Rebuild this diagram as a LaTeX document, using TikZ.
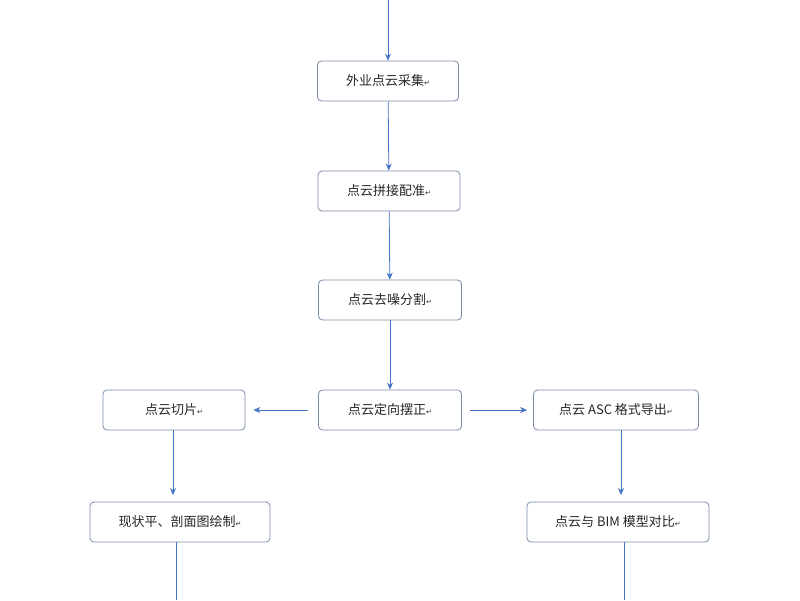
\documentclass[tikz,border=0pt]{standalone}
\usepackage{fontspec}
\setmainfont{Noto Sans CJK SC}
\newfontfamily\symfont{DejaVu Sans}
\usetikzlibrary{positioning,arrows.meta}
\definecolor{flowblue}{RGB}{68,114,196}
\definecolor{boxline}{RGB}{120,140,170}
\newcommand{\parmark}{{\symfont\scriptsize ↵}}
\begin{document}
\begin{tikzpicture}[x=1pt,y=-1pt,
    stage/.style={draw=boxline, rounded corners=4pt, thick, minimum height=40pt, font=\fontsize{13}{15}\selectfont, text=black!85},
    flow/.style={-{Stealth[length=7pt,width=6pt]}, flowblue, thick}]
  \useasboundingbox (0,0) rectangle (800,600);

  % main column
  \node[stage, minimum width=141pt] (collect) at (388,81) {外业点云采集\parmark};
  \node[stage, minimum width=142pt] (stitch) at (389,191) {点云拼接配准\parmark};
  \node[stage, minimum width=143pt] (denoise) at (390,300) {点云去噪分割\parmark};
  \node[stage, minimum width=143pt] (orient) at (390,410) {点云定向摆正\parmark};

  % side branches
  \node[stage, minimum width=142pt] (slice) at (174,410) {点云切片\parmark};
  \node[stage, minimum width=165pt] (export) at (616,410) {点云 ASC 格式导出\parmark};
  \node[stage, minimum width=180pt] (drawing) at (180,522) {现状平、剖面图绘制\parmark};
  \node[stage, minimum width=182pt] (compare) at (618,522) {点云与 BIM 模型对比\parmark};

  \coordinate (top) at (388,0);
  \coordinate (sliceOut) at (173,430);
  \coordinate (drawIn) at (173,495);
  \coordinate (exportOut) at (621,430);
  \coordinate (compIn) at (621,495);
  \coordinate (drawOut) at (176,542);
  \coordinate (endL) at (176,600);
  \coordinate (compOut) at (624,542);
  \coordinate (endR) at (624,600);

  % connectors
  \draw[flow] (top) -- (collect);
  \draw[flow] (collect) -- (stitch);
  \draw[flow] (stitch) -- (denoise);
  \draw[flow] (denoise) -- (orient);
  \draw[flow] ([xshift=-10pt]orient.west) -- ([xshift=8pt]slice.east);
  \draw[flow] ([xshift=8pt]orient.east) -- ([xshift=-6pt]export.west);
  \draw[flow] (sliceOut) -- (drawIn);
  \draw[flow] (exportOut) -- (compIn);
  \draw[flowblue, thick] (drawOut) -- (endL);
  \draw[flowblue, thick] (compOut) -- (endR);
\end{tikzpicture}
\end{document}
